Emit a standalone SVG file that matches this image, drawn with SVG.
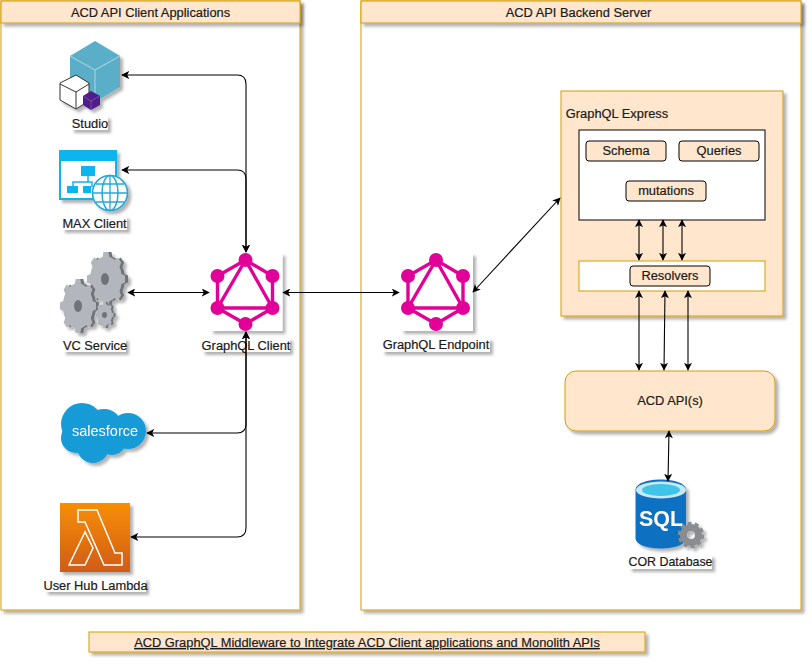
<svg xmlns="http://www.w3.org/2000/svg" width="812" height="664" viewBox="0 0 812 664">
<style>
text{font-family:"Liberation Sans",Arial,sans-serif;font-size:12.85px;fill:#1a1a1a;stroke:#1a1a1a;stroke-width:.2;text-anchor:middle}
.w{fill:#fff;stroke:none}
.panel{fill:#fff;stroke:#d79b00;stroke-width:1}
.hdr,.box{fill:#ffe6cc;stroke:#d79b00;stroke-width:1}
.in{fill:#ffe6cc;stroke:#000;stroke-width:1}
.lbl{fill:#fff}
.conn path{fill:none;stroke:#000;stroke-width:1.1;marker-start:url(#a);marker-end:url(#a)}
.ql line{stroke:#e10098;stroke-width:3.4}
.ql circle{fill:#e10098}
</style>
<defs>
<filter id="s" x="-20%" y="-20%" width="150%" height="150%"><feDropShadow dx="3" dy="3" stdDeviation="1.5" flood-color="#000" flood-opacity=".3"/></filter>
<marker id="a" viewBox="0 0 10 10" refX="9" refY="5" markerWidth="8" markerHeight="8" markerUnits="userSpaceOnUse" orient="auto-start-reverse"><path d="M0 0L10 5L0 10L2.500 5Z" fill="#000"/></marker>
<linearGradient id="lam" x1="0" y1="0" x2="0" y2="1"><stop offset="0" stop-color="#f78e04"/><stop offset="1" stop-color="#d05c17"/></linearGradient>
<path id="t" d="M-.2 -.75L-.13 -1H.13L.2 -.75Z"/>
<g id="gear"><circle r=".84"/><use href="#t"/><use href="#t" transform="rotate(45)"/><use href="#t" transform="rotate(90)"/><use href="#t" transform="rotate(135)"/><use href="#t" transform="rotate(180)"/><use href="#t" transform="rotate(225)"/><use href="#t" transform="rotate(270)"/><use href="#t" transform="rotate(315)"/></g>
<g id="q" class="ql"><rect x="-35" y="-39" width="72" height="78" fill="#fff" filter="url(#s)"/><g stroke-linecap="round"><line x1="0" y1="-32" x2="27" y2="-16"/><line x1="27" y1="-16" x2="27" y2="16"/><line x1="27" y1="16" x2="0" y2="32"/><line x1="0" y1="32" x2="-28" y2="16"/><line x1="-28" y1="16" x2="-28" y2="-16"/><line x1="-28" y1="-16" x2="0" y2="-32"/><line x1="0" y1="-32" x2="27" y2="16"/><line x1="27" y1="16" x2="-28" y2="16"/><line x1="-28" y1="16" x2="0" y2="-32"/></g><circle cx="0" cy="-32" r="7"/><circle cx="27" cy="-16" r="7"/><circle cx="27" cy="16" r="7"/><circle cx="0" cy="32" r="7"/><circle cx="-28" cy="16" r="7"/><circle cx="-28" cy="-16" r="7"/></g>
</defs>
<rect width="812" height="664" fill="#fff"/>
<g id="left-panel"><rect class="panel" x="1" y="1" width="299" height="609" filter="url(#s)"/><rect class="hdr" x="1" y="1" width="299" height="22" filter="url(#s)"/><text x="150.500" y="17">ACD API Client Applications</text></g>
<g id="right-panel"><rect class="panel" x="361" y="1" width="440" height="609" filter="url(#s)"/><rect class="hdr" x="361" y="1" width="440" height="22" filter="url(#s)"/><text x="578.500" y="17">ACD API Backend Server</text></g>
<g id="studio" filter="url(#s)"><path d="M95 41L120 56V87L95 102L70 87V56Z" fill="#5aaec8"/><path d="M70 56L95 70L120 56M95 70V102" fill="none" stroke="#9ccfdd" stroke-width="1.2"/><path d="M76 75L89 83V101L76 109L60 100V83Z" fill="#fff" stroke="#333" stroke-width="1"/><path d="M60 84L76 92L89 84M76 92V109" fill="none" stroke="#333"/><path d="M91 91L100 96V105L91 110L83 105V96Z" fill="#4f1a8a"/><path d="M83 96L91 101L100 96M91 101V110" fill="none" stroke="#8a63b5" stroke-width=".7"/></g>
<g id="studio-label"><rect class="lbl" x="71" y="116" width="37" height="14" filter="url(#s)"/><text x="90" y="128">Studio</text></g>
<g id="max" filter="url(#s)"><path d="M60 151H116V199H60Z" fill="#fff" stroke="#0fb5ee" stroke-width="2"/><rect x="59" y="150" width="58" height="11" fill="#0fb5ee"/><path d="M88 176V182M73 187V182H92V187" fill="none" stroke="#0fb5ee" stroke-width="1.5"/><rect x="81" y="166" width="14" height="10" fill="#0fb5ee"/><rect x="67" y="186" width="11" height="7" fill="#0fb5ee"/><rect x="83" y="186" width="8" height="7" fill="#0fb5ee"/><circle cx="110" cy="193" r="17.500" fill="#fff" stroke="#27a8d8" stroke-width="1.6"/><ellipse cx="110" cy="193" rx="8" ry="17.500" fill="none" stroke="#27a8d8" stroke-width="1.5"/><path d="M110 176V210M93 193H127M96 184H124M96 202H124" fill="none" stroke="#27a8d8" stroke-width="1.3"/></g>
<g id="max-label"><rect class="lbl" x="62" y="216" width="65" height="14" filter="url(#s)"/><text x="94.500" y="228">MAX Client</text></g>
<g id="vc" filter="url(#s)">
<use href="#gear" transform="translate(109 279) scale(19 27)" fill="#6f7379"/>
<use href="#gear" transform="translate(106 279) scale(19 27)" fill="#b3b6bc"/>
<ellipse cx="105" cy="279" rx="4" ry="6" fill="#6f7379"/>
<use href="#gear" transform="translate(81 306) scale(18 27)" fill="#6f7379"/>
<use href="#gear" transform="translate(78 306) scale(18 27)" fill="#b3b6bc"/>
<ellipse cx="78" cy="306" rx="4" ry="6" fill="#6f7379"/>
<use href="#gear" transform="translate(106.500 315) scale(9 13)" fill="#6f7379"/>
<use href="#gear" transform="translate(104.500 315) scale(9 13)" fill="#b3b6bc"/>
<ellipse cx="104.500" cy="315" rx="2.500" ry="3" fill="#6f7379"/></g>
<g id="vc-label"><rect class="lbl" x="63" y="338" width="63" height="14" filter="url(#s)"/><text x="95" y="350">VC Service</text></g>
<g id="sf" filter="url(#s)"><g fill="#159bd7"><circle cx="82" cy="424" r="21"/><circle cx="104" cy="427" r="18"/><circle cx="128" cy="431" r="18"/><circle cx="76" cy="438" r="15"/><circle cx="93" cy="447" r="16"/><circle cx="112" cy="441" r="14"/></g><text class="w" x="105" y="436" style="font-size:14.500px">salesforce</text></g>
<g id="lambda" filter="url(#s)"><rect x="60" y="503" width="70" height="69" fill="url(#lam)"/><path d="M78 510H97L115 553H122V565H104L85 522H78ZM85 532L69 565H85L93 548Z" fill="none" stroke="#fff" stroke-width="1.5"/></g>
<g id="lambda-label"><rect class="lbl" x="45" y="578" width="101" height="14" filter="url(#s)"/><text x="95.500" y="590">User Hub Lambda</text></g>
<g id="gql-client"><use href="#q" x="245.500" y="292"/></g>
<g id="gql-client-label"><rect class="lbl" x="202" y="338" width="88" height="14" filter="url(#s)"/><text x="246" y="350">GraphQL Client</text></g>
<g id="gql-endpoint"><use href="#q" x="436" y="292"/></g>
<g id="gql-endpoint-label"><rect class="lbl" x="382" y="338" width="108" height="14" filter="url(#s)"/><text x="436" y="349">GraphQL Endpoint</text></g>
<g id="express"><rect class="box" x="561" y="91" width="222" height="225" filter="url(#s)"/><text x="617" y="118">GraphQL Express</text></g>
<g id="schema-area"><rect x="579" y="130" width="186" height="90" fill="#fff" stroke="#000"/></g>
<g id="schema"><rect class="in" x="586" y="141" width="80" height="20" rx="3"/><text x="626" y="155">Schema</text></g>
<g id="queries"><rect class="in" x="679" y="141" width="80" height="20" rx="3"/><text x="719" y="155">Queries</text></g>
<g id="mutations"><rect class="in" x="626" y="181" width="80" height="20" rx="3"/><text x="666" y="195">mutations</text></g>
<g id="resolver-area"><rect x="579" y="261" width="186" height="30" fill="#fff" stroke="#d79b00"/></g>
<g id="resolvers"><rect class="in" x="630" y="266" width="80" height="20" rx="3"/><text x="670" y="280">Resolvers</text></g>
<g id="api"><rect class="box" x="565" y="371" width="210" height="60" rx="11" filter="url(#s)"/><text x="670" y="405">ACD API(s)</text></g>
<g id="sql" filter="url(#s)"><path d="M635.500 490C635.500 476 686 476 686 490V538C686 552 635.500 552 635.500 538Z" fill="#0f6fc0"/><ellipse cx="661" cy="490" rx="25" ry="8.500" fill="#c9e8f5"/><ellipse cx="661" cy="490" rx="19" ry="6" fill="#3cc4e8"/><text class="w" x="661" y="526" style="font-size:21.500px;font-weight:bold">SQL</text><circle cx="691" cy="535" r="7.500" fill="none" stroke="#8a8d90" stroke-width="7"/><circle cx="691" cy="535" r="11.500" fill="none" stroke="#8a8d90" stroke-width="3.500" stroke-dasharray="4 3.200"/></g>
<g id="sql-label"><rect class="lbl" x="629" y="555" width="83" height="14" filter="url(#s)"/><text x="670.500" y="566" style="font-size:12.400px">COR Database</text></g>
<g id="caption"><rect class="box" x="89" y="632" width="556" height="20" filter="url(#s)"/><text x="367" y="647" text-decoration="underline">ACD GraphQL Middleware to Integrate ACD Client applications and Monolith APIs</text></g>
<g id="connectors" class="conn">
<path d="M122 75H237Q246 75 246 84V252"/>
<path d="M122 170H237Q246 170 246 179V252"/>
<path d="M128 292.500H209"/>
<path d="M283 292.500H399"/>
<path d="M147 433H237Q246 433 246 424V332"/>
<path d="M131 537H237Q246 537 246 528V332"/>
<path d="M473 292L560 198"/>
<path d="M639 220V260"/>
<path d="M663 220V260"/>
<path d="M682 220V260"/>
<path d="M639 291V370"/>
<path d="M665 291L664 370"/>
<path d="M688 291V370"/>
<path d="M669 431L668 481"/>
</g>
</svg>
